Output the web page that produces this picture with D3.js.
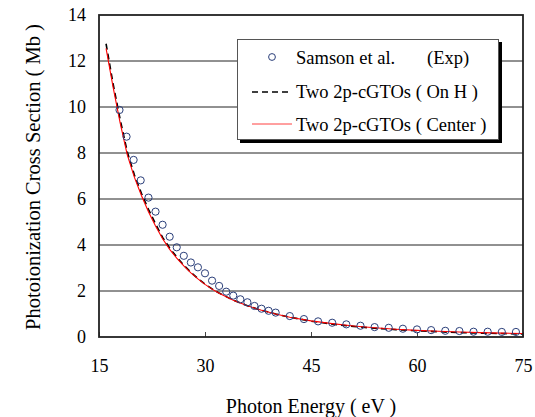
<!DOCTYPE html>
<html><head><meta charset="utf-8">
<script src="https://cdn.jsdelivr.net/npm/d3@7"></script>
<style>body{margin:0;background:#fff}svg{display:block}</style>
</head><body><svg id="c" width="535" height="417" font-family="Liberation Serif"></svg>
<script>
const xTicks = [15, 30, 45, 60, 75];
const yTicks = [0, 2, 4, 6, 8, 10, 12, 14];
const expE = [17.9,18.9,19.9,20.9,22,23,24,25,26,27,28,29,30,31,32,33,34,35,36,37,38,39,40,42,44,46,48,50,52,54,56,58,60,62,64,66,68,70,72,74];
const expV = [9.87,8.71,7.70,6.81,6.06,5.45,4.88,4.36,3.90,3.53,3.24,3.03,2.77,2.45,2.22,1.97,1.80,1.64,1.51,1.35,1.23,1.14,1.06,0.91,0.78,0.68,0.62,0.55,0.49,0.43,0.40,0.36,0.33,0.30,0.27,0.26,0.23,0.23,0.22,0.22];
const lineE = [16,17,18,19,20,21,22,23,24,25,26,27,28,29,30,31,32,34,36,38,40,42,45,48,51,54,57,60,63,66,69,72,75];
const onH   = [12.75,11.0,9.45,8.05,7.05,6.25,5.55,4.92,4.33,3.87,3.48,3.12,2.81,2.54,2.30,2.09,1.91,1.60,1.36,1.16,1.00,0.86,0.69,0.56,0.46,0.38,0.32,0.27,0.23,0.19,0.17,0.15,0.13];
const center= [12.55,10.85,9.3,7.92,6.95,6.15,5.45,4.83,4.27,3.81,3.43,3.09,2.79,2.53,2.29,2.08,1.90,1.60,1.36,1.16,1.00,0.86,0.70,0.58,0.48,0.40,0.34,0.29,0.25,0.22,0.19,0.17,0.15];
const legendLabels = ["Samson et al.", "Two 2p-cGTOs ( On H )", "Two 2p-cGTOs ( Center )"];

const FF = "Liberation Serif";
const svg = d3.select("#c");
const L=99, R=523, T=15, B=337;
const x = d3.scaleLinear().domain([15,75]).range([L,R]);
const y = d3.scaleLinear().domain([0,14]).range([B,T]);

svg.append("g").selectAll("line").data(yTicks.filter(d=>d>0&&d<14)).join("line")
  .attr("x1",L).attr("x2",R).attr("y1",d=>y(d)).attr("y2",d=>y(d))
  .attr("stroke","#222").attr("stroke-width",1);

svg.append("g").selectAll("text").data(yTicks).join("text")
  .attr("x",86).attr("y",d=>y(d)).attr("dy","0.35em").attr("text-anchor","end")
  .attr("font-family",FF).attr("font-size",18).text(d=>d);

const xa = d3.axisBottom(x).tickValues(xTicks).tickSize(-5).tickPadding(22).tickSizeOuter(0);
const gx = svg.append("g").attr("transform",`translate(0,${B})`).call(xa);
gx.attr("font-family",FF).attr("font-size",18);
gx.select(".domain").remove();
gx.selectAll(".tick line").attr("stroke","#444");
gx.selectAll(".tick text").attr("fill","#000");

const ln = d3.line().x(d=>x(d[0])).y(d=>y(d[1]));
svg.append("path").datum(lineE.map((e,i)=>[e,onH[i]])).attr("d",ln)
  .attr("fill","none").attr("stroke","#000").attr("stroke-width",1.6).attr("stroke-dasharray","6,4");
svg.append("path").datum(lineE.map((e,i)=>[e,center[i]])).attr("d",ln)
  .attr("fill","none").attr("stroke","#ff0000").attr("stroke-width",1.1);

svg.append("g").selectAll("circle").data(expE.map((e,i)=>[e,expV[i]])).join("circle")
  .attr("cx",d=>x(d[0])).attr("cy",d=>y(d[1])).attr("r",3.6)
  .attr("fill","none").attr("stroke","#2b3f7a").attr("stroke-width",1);

svg.append("rect").attr("x",L).attr("y",T).attr("width",R-L).attr("height",B-T)
  .attr("fill","none").attr("stroke","#222").attr("stroke-width",1.8);

const lg = svg.append("g");
lg.append("rect").attr("x",240).attr("y",42).attr("width",262).attr("height",101).attr("fill","#000");
lg.append("rect").attr("x",237.5).attr("y",39.5).attr("width",261).attr("height",100).attr("fill","#fff").attr("stroke","#555").attr("stroke-width",1);
lg.append("circle").attr("cx",272).attr("cy",57).attr("r",3.4).attr("fill","none").attr("stroke","#2b3f7a").attr("stroke-width",1);
lg.append("line").attr("x1",252).attr("x2",290).attr("y1",92).attr("y2",92).attr("stroke","#000").attr("stroke-width",1.6).attr("stroke-dasharray","6,4");
lg.append("line").attr("x1",252).attr("x2",292).attr("y1",124).attr("y2",124).attr("stroke","#ff4040").attr("stroke-width",1);
const ty=[58,92,125];
lg.selectAll("text.l").data(legendLabels).join("text").attr("class","l")
  .attr("x",296).attr("y",(d,i)=>ty[i]).attr("dy","0.35em").attr("font-family",FF).attr("font-size",18.5).text(d=>d);
lg.append("text").attr("x",427).attr("y",58).attr("dy","0.35em").attr("font-family",FF).attr("font-size",18.5).text("(Exp)");

svg.append("text").attr("x",311).attr("y",406).attr("dy","0.35em").attr("text-anchor","middle").attr("font-family",FF).attr("font-size",20).text("Photon Energy ( eV )");
svg.append("text").attr("transform","translate(33,177) rotate(-90)").attr("dy","0.35em").attr("text-anchor","middle").attr("font-family",FF).attr("font-size",20.5).text("Photoionization Cross Section ( Mb )");
</script></body></html>
